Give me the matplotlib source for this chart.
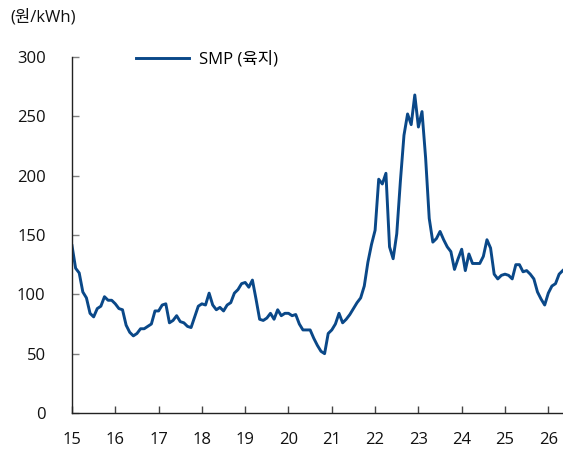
import matplotlib
matplotlib.use("Agg")
import matplotlib.pyplot as plt
import numpy as np

plt.rcParams['font.family'] = ['Open Sans', 'Noto Sans CJK KR', 'DejaVu Sans']

start_year = 2015
smp = [
    141, 122, 118, 102, 97, 84, 81, 88, 90, 98, 95, 95,      # 2015
    92, 88, 87, 74, 68, 65, 67, 71, 71, 73, 75, 86,          # 2016
    86, 91, 92, 76, 78, 82, 77, 76, 73, 72, 81, 90,          # 2017
    92, 91, 101, 91, 87, 89, 86, 91, 93, 101, 104, 109,      # 2018
    110, 106, 112, 96, 79, 78, 80, 84, 79, 87, 82, 84,       # 2019
    84, 82, 83, 75, 70, 70, 70, 63, 57, 52, 50, 67,          # 2020
    70, 75, 84, 76, 79, 83, 88, 93, 97, 107, 127, 142,       # 2021
    154, 197, 193, 202, 140, 130, 151, 195, 234, 252, 243, 268,  # 2022
    241, 254, 215, 164, 144, 147, 153, 146, 140, 136, 121, 130,  # 2023
    138, 120, 134, 126, 126, 126, 132, 146, 139, 117, 113, 116,  # 2024
    117, 116, 113, 125, 125, 119, 120, 117, 113, 102, 96, 91,    # 2025
    101, 107, 109, 117, 120,                                     # 2026
]
year_ticks = list(range(15, 27))
y_ticks = [0, 50, 100, 150, 200, 250, 300]
series_label = "SMP (육지)"
unit_label = "(원/kWh)"

x = np.array([15 + i / 12 for i in range(len(smp))])

fig = plt.figure(figsize=(5.63, 4.53), dpi=100)
ax = fig.add_axes([72 / 563, 40 / 453, 491 / 563, 356 / 453])

ax.plot(x, smp, color='#0a4888', lw=2.1, label=series_label, solid_joinstyle='round')

ax.set_xlim(15, 15 + 491 / 43.3)
ax.set_ylim(0, 300)
ax.set_xticks(year_ticks)
ax.set_xticklabels([str(t) for t in year_ticks])
ax.set_yticks(y_ticks)

for s in ['top', 'right']:
    ax.spines[s].set_visible(False)
ax.spines['left'].set_color('#222222')
ax.spines['bottom'].set_color('#222222')
ax.spines['left'].set_linewidth(1.0)
ax.spines['bottom'].set_linewidth(1.0)

ax.tick_params(axis='y', direction='in', length=5, width=1, color='#808080',
               pad=19, labelsize=12, labelcolor='#111111')
ax.tick_params(axis='x', direction='in', length=5, width=1, color='#444444',
               pad=14, labelsize=12, labelcolor='#111111')

ax.legend(loc='center left', bbox_to_anchor=(0.13, 0.994), frameon=False,
          fontsize=12, handlelength=3.2, handletextpad=0.6, borderaxespad=0,
          borderpad=0)

fig.text(10 / 563, 1 - 17 / 453, unit_label, ha='left', va='center',
         fontsize=12, color='#111111')

fig.savefig('out.png', dpi=100)
